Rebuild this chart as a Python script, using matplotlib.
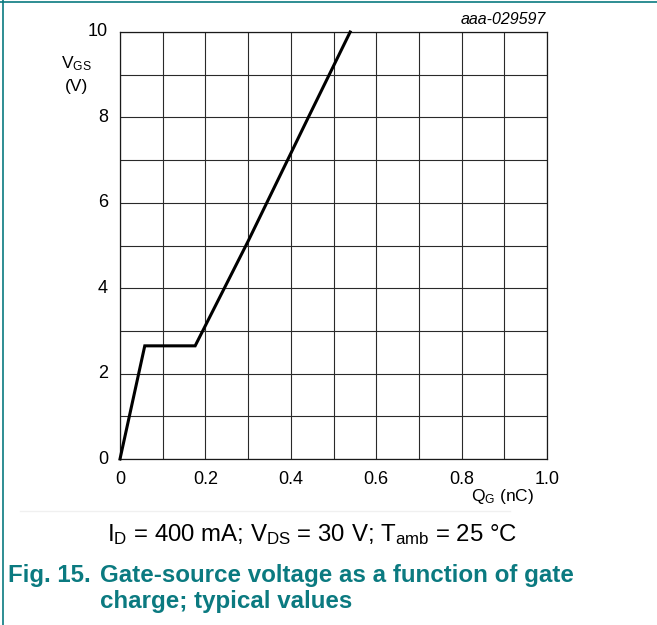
import matplotlib
matplotlib.use("Agg")
import matplotlib.pyplot as plt
from matplotlib.lines import Line2D

plt.rcParams['font.family'] = ['Liberation Sans', 'DejaVu Sans']
plt.rcParams['mathtext.default'] = 'regular'

# Data
qg = [0.0, 0.058, 0.176, 0.30, 0.441, 0.539]
vgs = [0.0, 2.65, 2.65, 5.1, 8.0, 10.0]
xticks = [0, 0.2, 0.4, 0.6, 0.8, 1.0]
xticklabels = ['0', '0.2', '0.4', '0.6', '0.8', '1.0']
yticks = [0, 2, 4, 6, 8, 10]
yticklabels = ['0', '2', '4', '6', '8', '10']

W, H = 657, 625
fig = plt.figure(figsize=(W / 100, H / 100), dpi=100)
teal = '#0b7a80'


def fx(px):
    return px / W


def fy(py):
    return 1 - py / H


ax = fig.add_axes([fx(120), fy(459), 427 / W, 427 / H])
ax.set_xlim(0, 1.0)
ax.set_ylim(0, 10)
ax.set_xticks([i / 10 for i in range(11)])
ax.set_yticks(range(11))
ax.grid(True, color='#2a2a2a', linewidth=0.8)
ax.tick_params(length=0, labelbottom=False, labelleft=False)
for s in ax.spines.values():
    s.set_color('#1a1a1a')
    s.set_linewidth(0.9)
ax.plot(qg, vgs, color='black', linewidth=2.2, solid_joinstyle='miter', zorder=5, clip_on=False)

# tick labels
xtr = ax.get_xaxis_transform()
for t, lab in zip(xticks, xticklabels):
    ax.text(t, -25 / 427, lab, ha='center', va='baseline', fontsize=13, transform=xtr)
ytr = ax.get_yaxis_transform()
for t, lab in zip(yticks, yticklabels):
    ax.text(-12 / 427, t, lab, ha='right', va='center', fontsize=13, transform=ytr)

fig.text(fx(76), fy(68), '$V_{GS}$', ha='center', va='baseline', fontsize=12.5)
fig.text(fx(76.5), fy(91), '(V)', ha='center', va='baseline', fontsize=12.5)
fig.text(fx(503), fy(501), '$Q_G$ (nC)', ha='center', va='baseline', fontsize=12.5)
fig.text(fx(546), fy(24), 'aaa-029597', ha='right', va='baseline', fontsize=11.5, style='italic')

fig.text(fx(107), fy(541), '$I_D$ = 400 mA; $V_{DS}$ = 30 V; $T_{amb}$ = 25 °C',
         ha='left', va='baseline', fontsize=17.3)
fig.text(fx(8), fy(582), 'Fig. 15.', ha='left', va='baseline', fontsize=17.3,
         fontweight='bold', color=teal)
fig.text(fx(100), fy(582), 'Gate-source voltage as a function of gate', ha='left',
         va='baseline', fontsize=17.4, fontweight='bold', color=teal)
fig.text(fx(100), fy(608), 'charge; typical values', ha='left', va='baseline',
         fontsize=17.4, fontweight='bold', color=teal)

# frame lines
fig.add_artist(Line2D([0, 1], [fy(1.5), fy(1.5)], color=teal, linewidth=1.2,
                      transform=fig.transFigure))
fig.add_artist(Line2D([fx(2.5), fx(2.5)], [0, 1], color=teal, linewidth=1.2,
                      transform=fig.transFigure))
fig.add_artist(Line2D([fx(20), fx(510)], [fy(511), fy(511)], color='#f0f0f0',
                      linewidth=1.0, transform=fig.transFigure))

fig.savefig('out.png', dpi=100)
